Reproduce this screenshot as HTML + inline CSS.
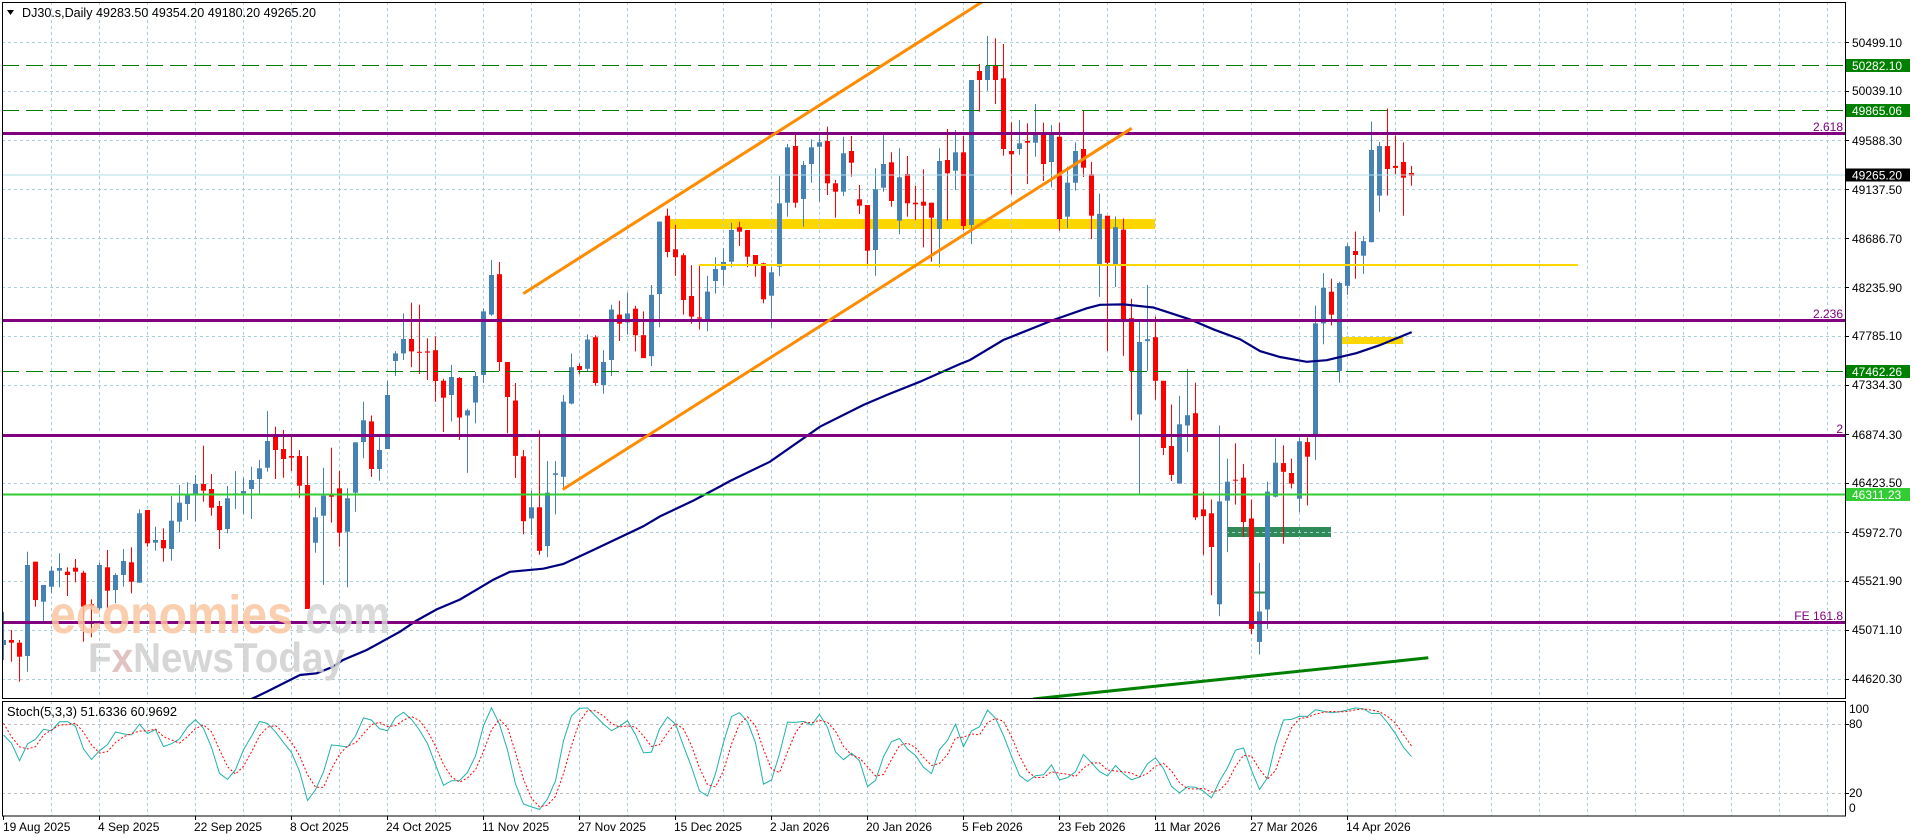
<!DOCTYPE html>
<html><head><meta charset="utf-8"><style>
html,body{margin:0;padding:0;background:#fff;overflow:hidden;}
svg{display:block;font-family:"Liberation Sans",sans-serif;}
</style></head><body>
<svg id="s" width="1916" height="840" viewBox="0 0 1916 840" xmlns="http://www.w3.org/2000/svg">
<defs>
<clipPath id="cm"><rect x="2" y="2" width="1843" height="696"/></clipPath>
<clipPath id="cs"><rect x="2" y="701" width="1843" height="115"/></clipPath>
</defs>
<rect width="1916" height="840" fill="#fff"/>
<g clip-path="url(#cm)">
  <rect x="670" y="219" width="485" height="10" fill="#ffd700"/>
  <rect x="1342" y="337" width="61" height="7" fill="#ffd700"/>
  <rect x="1228" y="527" width="103" height="10" fill="#2e8b57"/>
  <g id="gm" stroke="#a8d0d8" stroke-width="1" stroke-dasharray="3,3" fill="none"></g>
  <g id="candles"></g>
  <polyline fill="none" stroke="#000080" stroke-width="2.2" points="245,702 253,698.3 266.7,691.7 290,680 300,675 316.7,673.3 333.3,666.7 343,660 366.7,650 400,631.7 416.7,620.5 436.7,609.4 460,599.5 483.3,585.7 493.3,579.7 510,571.8 543.3,568.7 563.3,564 593.3,550 643.3,526.3 660,516.4 693.3,500.6 720,486.5 730,481 770,461.7 820,426.7 863.3,405 886.7,395 920,381.7 960,364 970,360 1003.3,340 1020,333.3 1053.3,320 1086.7,308.3 1100,304.8 1123.3,304.4 1153.3,307.5 1190,319.4 1213.3,329.3 1240,339.2 1260,351.1 1280,357 1306.7,361.8 1326.7,360.2 1356.7,353.1 1380,345.1 1411.7,332.1"/>
  <!-- horizontal levels -->
  <line x1="2" y1="65.5" x2="1845" y2="65.5" stroke="#008000" stroke-width="1" stroke-dasharray="17,7"/>
  <line x1="2" y1="110.5" x2="1845" y2="110.5" stroke="#008000" stroke-width="1" stroke-dasharray="17,7"/>
  <line x1="2" y1="371.5" x2="1845" y2="371.5" stroke="#008000" stroke-width="1" stroke-dasharray="17,7"/>
  <line x1="2" y1="175" x2="1845" y2="175" stroke="#b0dde6" stroke-width="1"/>
  <line x1="2" y1="133.5" x2="1845" y2="133.5" stroke="#800080" stroke-width="3"/>
  <line x1="2" y1="320.5" x2="1845" y2="320.5" stroke="#800080" stroke-width="3"/>
  <line x1="2" y1="435.5" x2="1845" y2="435.5" stroke="#800080" stroke-width="3"/>
  <line x1="2" y1="622.5" x2="1845" y2="622.5" stroke="#800080" stroke-width="3"/>
  <line x1="2" y1="494.5" x2="1845" y2="494.5" stroke="#32cd32" stroke-width="2"/>
  <line x1="699" y1="265" x2="1578" y2="265" stroke="#ffd700" stroke-width="2"/>
  <line x1="1253" y1="592.5" x2="1265" y2="592.5" stroke="#2e8b57" stroke-width="2"/>
  <!-- channel -->
  <line x1="523.3" y1="293.6" x2="985" y2="0" stroke="#ff8c00" stroke-width="3"/>
  <line x1="562.7" y1="489.5" x2="1131.7" y2="128.3" stroke="#ff8c00" stroke-width="3"/>
  <line x1="1033" y1="699" x2="1428.3" y2="657.8" stroke="#008000" stroke-width="3"/>
  <!-- watermark -->
  <text x="50" y="633" font-size="54" font-weight="bold" fill="#f9c5a0" fill-opacity="0.85" textLength="243" lengthAdjust="spacingAndGlyphs">economies</text>
  <text x="294" y="633" font-size="54" font-weight="bold" fill="#d4d4d4" fill-opacity="0.85" textLength="96" lengthAdjust="spacingAndGlyphs">.com</text>
  <text x="88" y="672" font-size="42" font-weight="bold" fill="#cfcfcf" fill-opacity="0.85" textLength="257" lengthAdjust="spacingAndGlyphs">F<tspan fill="#d9b8b8">x</tspan>NewsToday</text>
</g>
<!-- level labels -->
<g font-size="12" fill="#800080" text-anchor="end">
  <text x="1843" y="131">2.618</text>
  <text x="1843" y="318">2.236</text>
  <text x="1843" y="433">2</text>
  <text x="1843" y="620">FE 161.8</text>
</g>
<!-- title -->
<polygon points="7,10 14,10 10.5,15" fill="#000"/>
<text x="22" y="17" font-size="12.5" fill="#000" textLength="294" lengthAdjust="spacingAndGlyphs">DJ30.s,Daily  49283.50 49354.20 49180.20 49265.20</text>
<!-- stoch -->
<g clip-path="url(#cs)">
  <g id="gs" stroke="#a8d0d8" stroke-width="1" stroke-dasharray="3,3" fill="none"></g>
  <line x1="2" y1="724.5" x2="1845" y2="724.5" stroke="#c0c0c0" stroke-dasharray="3,3"/>
  <line x1="2" y1="793.5" x2="1845" y2="793.5" stroke="#c0c0c0" stroke-dasharray="3,3"/>
  <polyline id="sk" fill="none" stroke="#20b2aa" stroke-width="1"/>
  <polyline id="sd" fill="none" stroke="#ff0000" stroke-width="1" stroke-dasharray="2,2"/>
</g>
<text x="7" y="716" font-size="12.5" fill="#000" textLength="170" lengthAdjust="spacingAndGlyphs">Stoch(5,3,3) 51.6336 60.9692</text>
<!-- borders -->
<rect x="2.5" y="2.5" width="1843" height="696" fill="none" stroke="#000" stroke-width="1"/>
<rect x="2.5" y="701.5" width="1843" height="114.5" fill="none" stroke="#000" stroke-width="1"/>
<!-- price axis -->
<g id="pax" font-size="12" fill="#000">
  <text x="1852" y="47">50499.10</text>
  <text x="1852" y="95">50039.10</text>
  <text x="1852" y="145">49588.30</text>
  <text x="1852" y="194">49137.50</text>
  <text x="1852" y="243">48686.70</text>
  <text x="1852" y="292">48235.90</text>
  <text x="1852" y="340">47785.10</text>
  <text x="1852" y="389">47334.30</text>
  <text x="1852" y="439">46874.30</text>
  <text x="1852" y="487">46423.50</text>
  <text x="1852" y="537">45972.70</text>
  <text x="1852" y="585">45521.90</text>
  <text x="1852" y="634">45071.10</text>
  <text x="1852" y="683">44620.30</text>
</g>
<g stroke="#000" stroke-width="1">
  <line x1="1845" y1="42.5" x2="1849" y2="42.5"/><line x1="1845" y1="91.5" x2="1849" y2="91.5"/>
  <line x1="1845" y1="140.5" x2="1849" y2="140.5"/><line x1="1845" y1="189.5" x2="1849" y2="189.5"/>
  <line x1="1845" y1="238.5" x2="1849" y2="238.5"/><line x1="1845" y1="287.5" x2="1849" y2="287.5"/>
  <line x1="1845" y1="336.5" x2="1849" y2="336.5"/><line x1="1845" y1="385.5" x2="1849" y2="385.5"/>
  <line x1="1845" y1="434.5" x2="1849" y2="434.5"/><line x1="1845" y1="483.5" x2="1849" y2="483.5"/>
  <line x1="1845" y1="532.5" x2="1849" y2="532.5"/><line x1="1845" y1="581.5" x2="1849" y2="581.5"/>
  <line x1="1845" y1="630.5" x2="1849" y2="630.5"/><line x1="1845" y1="679.5" x2="1849" y2="679.5"/>
  <line x1="1845" y1="724.5" x2="1849" y2="724.5"/><line x1="1845" y1="793.5" x2="1849" y2="793.5"/>
</g>
<rect x="1846" y="59" width="64" height="13" fill="#008000"/>
<text x="1852" y="70" font-size="12" fill="#fff">50282.10</text>
<rect x="1846" y="104" width="64" height="13" fill="#008000"/>
<text x="1852" y="115" font-size="12" fill="#fff">49865.06</text>
<rect x="1846" y="168.5" width="64" height="13" fill="#000"/>
<text x="1852" y="179.5" font-size="12" fill="#fff">49265.20</text>
<rect x="1846" y="365" width="64" height="13" fill="#008000"/>
<text x="1852" y="376" font-size="12" fill="#fff">47462.26</text>
<rect x="1846" y="488" width="64" height="13" fill="#32cd32"/>
<text x="1852" y="499" font-size="12" fill="#fff">46311.23</text>
<g font-size="12" fill="#000">
  <text x="1849" y="713">100</text>
  <text x="1849" y="728">80</text>
  <text x="1849" y="797">20</text>
  <text x="1849" y="812">0</text>
</g>
<!-- time axis -->
<g font-size="12" fill="#000">
  <text x="3" y="831">19 Aug 2025</text>
  <text x="98" y="831">4 Sep 2025</text>
  <text x="194" y="831">22 Sep 2025</text>
  <text x="290" y="831">8 Oct 2025</text>
  <text x="386" y="831">24 Oct 2025</text>
  <text x="482" y="831">11 Nov 2025</text>
  <text x="578" y="831">27 Nov 2025</text>
  <text x="674" y="831">15 Dec 2025</text>
  <text x="770" y="831">2 Jan 2026</text>
  <text x="866" y="831">20 Jan 2026</text>
  <text x="962" y="831">5 Feb 2026</text>
  <text x="1058" y="831">23 Feb 2026</text>
  <text x="1154" y="831">11 Mar 2026</text>
  <text x="1250" y="831">27 Mar 2026</text>
  <text x="1346" y="831">14 Apr 2026</text>
</g>
<g id="tt" stroke="#000" stroke-width="1"></g>
</svg>
<script>
(function(){
var NS="http://www.w3.org/2000/svg";
function el(t,a,p){var e=document.createElementNS(NS,t);for(var k in a)e.setAttribute(k,a[k]);p.appendChild(e);return e;}
var C=[
[1,611.7,640,645,660],[0,630,640,642.7,661.7],[0,640,642.7,656.7,681.7],[1,551.7,565,656,671.7],[0,561.7,561.7,600,606.7],
[1,585,585,601.7,621.7],[1,566,570.7,586.7,593.3],[1,553.3,568,570.7,587.3],[0,567.3,571.7,575,596],[0,559,567.7,571.7,582.3],
[0,570.7,572.7,606.7,641.7],[0,599.3,604,606,637.3],[1,562.7,565,608.3,610],[0,550,567.3,590.7,608.3],[1,573.3,575,590,603.3],
[1,549,561,575,586.7],[0,547.3,562.3,581.7,593.3],[1,509.3,513.3,582.7,582.7],[0,510,510,543.3,546.7],[1,526.7,540,542.7,550.7],
[0,528.3,540,548.3,561.7],[1,496,520.7,549,560.7],[1,485,502.7,521.7,532.3],[1,482.3,495,504,520],[1,475,484,494,521.7],
[0,445.7,484,490.7,501.7],[0,474,489,507.7,515.7],[0,501,506,530,549],[1,486,498.3,529,533.3],[1,471,493.3,494.3,509],
[1,477.7,491,493.3,514.3],[1,466.7,480,489,519],[1,460,468.3,479,494.3],[1,411,441,467.7,471.7],[0,426.7,436,450,479],
[0,430,449,459,477.7],[0,436.7,456,457.7,471],[0,450,456,485.7,497.7],[0,456,485,609,609],[1,507.3,517.3,542.7,552.7],
[1,467.7,495.7,515.7,585],[0,447.7,495,496.7,522.7],[0,471,488.3,532.7,546.7],[1,488.3,498.3,531.7,587.3],[1,442.3,442.3,492.7,511.7],
[1,401.7,420.3,442,458.3],[0,415.5,421.4,469,476.9],[1,437.3,450,469,480.8],[1,381,395,449,449],[1,351,353.4,361,376],
[1,313.4,339,353.4,360],[0,302.7,339,351.4,367.2],[0,304.7,351.8,352.6,374],[0,338.4,351.4,352.6,380],[0,336.4,350.2,381,401.7],
[0,378.7,380.7,397.7,432],[1,364.9,377,395,421.4],[0,377,378,417.5,440],[1,408.8,410.4,415.5,472.9],[1,372,376,402.5,423.4],
[1,308.7,311.4,375,383],[1,260,275,314.6,315.8],[0,262,274.2,362,371.2],[0,362,362,397,433.3],[0,383,400.5,455.9,478],
[0,450,456.3,521.2,534.2],[1,490.7,507.3,518.4,535],[0,430.2,507.3,550.8,554.8],[1,461,492.7,546,557.2],[1,461,473.3,474.9,514.4],
[1,395,401.7,476.8,489.5],[1,353.4,367.2,403.6,404.4],[0,363.3,366,370,374],[1,334.4,339.5,368.8,372],[0,335.2,337.2,383,385.8],
[1,350.2,362,385,393.7],[1,304.7,309.5,360,376],[0,300.8,314.6,323.7,341],[1,292.8,313.4,322.5,334.4],[0,305.9,308.7,335.2,351.4],
[0,311.4,335.2,358.1,358.1],[1,285,294.8,356.2,366],[1,221.6,221.6,294,327.3],[0,208.5,215.7,252,257.2],[0,224.8,249.3,257.2,275.8],
[0,253.3,255.2,300,314.6],[0,265.1,296,316.6,323.7],[0,266,317.4,318.6,329.6],[1,275.8,291.6,319.7,331.2],[1,257.2,269,281,293.6],
[1,248.5,262,269.9,285.7],[1,222.7,230,261.7,267.3],[0,221.7,227.3,231.7,246],[0,230,230,256.7,267.3],[0,255,255,265.7,276.7],
[0,262.7,263.3,299.3,303.3],[1,266.7,272.3,295.7,327.7],[1,176,203.3,266.7,276],[1,144,147.3,202.7,216.7],[0,135,146,202.7,207.7],
[1,161,165,199,226.7],[1,139.3,147.3,164,182.7],[1,135,142.3,146.7,201.7],[0,126.7,141,183.3,195],[0,180,183.3,191.7,217.7],
[1,136.7,153.3,191.7,196],[0,136,151,162.7,176.7],[0,185,199.3,205.7,214],[0,205,205,250.7,264],[1,168.3,189.3,250,275.7],
[1,135,164,187.7,191.7],[0,152.3,162.3,201,206.7],[1,148.3,177.3,220.7,234.3],[0,156,174,203.3,216.7],[0,185.7,202.7,204.3,220],
[0,169.3,201.7,205.7,247.3],[0,202.7,202.7,217.7,261.7],[1,148.3,161,229,267.3],[0,129,160,173.3,220.7],[1,130,152.3,170.7,190],
[0,136,152.3,226,230],[1,80,80,225,244],[0,64,71,80,111.7],[1,36,66,80,90.7],[0,38.3,66,80,104],
[0,44,78.3,149,155.7],[0,122.3,151,154.3,194.3],[1,120,143.3,149,155],[0,123.3,141,142.7,184],[1,104,133.3,142.7,156.7],
[0,122.7,133.3,164,181],[1,125,134.3,162,187.3],[0,122.7,136.7,219,230.7],[1,166.7,182.7,216.7,228.3],[1,142.3,151,182.7,190.7],
[0,110,149,167.7,177],[0,161.9,174.2,215.7,239.1],[1,193.6,213.8,264.8,296.9],[0,215.7,215.7,262.8,351.1],[1,216.5,227.2,264,287],
[0,218.5,229.6,319.4,355.8],[0,298.8,318.2,370.9,420.3],[1,321.4,342,414.4,494.7],[1,285,339.2,341.2,370.9],[0,316.6,337.2,380.8,399.7],
[0,380.8,380.8,448,455.1],[0,404.5,446,474.9,480.9],[1,395.8,424.3,483.6,483.6],[1,368.9,415.2,425.5,452],[0,382.7,413.2,517.3,520.1],
[0,491.6,509.4,516.1,554.9],[0,499.5,513.3,547,595.2],[1,425.5,501.4,604.3,616.2],[1,458.7,481.7,500.7,552.1],[0,443.3,479.7,480.5,504.6],
[0,463.9,477.7,522,537.1],[0,499.5,518.5,628.9,634],[1,562.8,611.5,641.9,654.6],[1,481.7,491.6,609.5,628.9],[1,438.1,462.7,496.7,497.5],
[0,445.3,463.1,471.8,543.8],[0,458.7,473,483.6,488.4],[1,437.3,441.3,498.7,512.1],[0,437.3,442.1,456.7,505.4],[1,305.6,323.4,434.2,459.9],
[1,273.1,287.8,323.4,344.3],[0,278.7,291.7,314.7,325.4],[1,281.8,283,370.9,382.7],[1,243.4,246.2,285.8,294.9],[0,231.6,251,255,278.7],
[1,236.3,241.1,255.7,273.9],[1,121.6,150,242.2,242.2],[1,142.1,146.1,195.6,211.8],[0,108.5,146.1,169,195.6],[0,135.4,165.9,167.9,174.2],
[0,142.5,161.9,177.7,215.7],[0,165.9,173,175.8,185.7]
];
var gm=document.getElementById('gm'),gs=document.getElementById('gs');
var hy=[42.5,91.5,140.5,189.5,238.5,287.5,336.5,385.5,434.5,483.5,532.5,581.5,630.5,679.5];
for(var k=0;k<38;k++){var x=51.5+48*k;
 el('line',{x1:x,y1:2,x2:x,y2:698},gm);
 el('line',{x1:x,y1:701,x2:x,y2:816},gs);}
for(var j=0;j<hy.length;j++)el('line',{x1:2,y1:hy[j],x2:1845,y2:hy[j]},gm);
var cg=document.getElementById('candles');
for(var i=0;i<C.length;i++){var c=C[i],col=c[0]?'#4682b4':'#ff0000';
 el('rect',{x:3+8*i,y:c[1],width:1,height:Math.max(1,c[4]-c[1]),fill:col},cg);
 el('rect',{x:1+8*i,y:c[2],width:5,height:Math.max(1,c[3]-c[2]),fill:col},cg);}
var tt=document.getElementById('tt');
for(var k=0;k<15;k++){var x=3.5+96*k;el('line',{x1:x,y1:816,x2:x,y2:820},tt);}
function hh(i){var m=1e9;for(var j=Math.max(0,i-4);j<=i;j++)m=Math.min(m,C[j][1]);return m;}
function ll(i){var m=-1e9;for(var j=Math.max(0,i-4);j<=i;j++)m=Math.max(m,C[j][4]);return m;}
function cl(i){return C[i][0]?C[i][2]:C[i][3];}
var K=[70.5,63.3,48.2,62.7,66.8,75.4],D=[80.6,69,60.3,58.4,60.3,70.5,74.8,79.1];
for(var i=6;i<C.length;i++){var n=0,d=0;for(var j=i-2;j<=i;j++){n+=ll(j)-cl(j);d+=ll(j)-hh(j);}K[i]=d>0?100*n/d:50;}
for(var i=8;i<C.length;i++){D[i]=(K[i]+K[i-1]+K[i-2])/3;}
function pts(a){var s=[];for(var i=0;i<a.length;i++)s.push((3.5+8*i)+','+(816.4-1.155*a[i]).toFixed(1));return s.join(' ');}
document.getElementById('sk').setAttribute('points',pts(K));
document.getElementById('sd').setAttribute('points',pts(D));
})();
</script>
</body></html>
